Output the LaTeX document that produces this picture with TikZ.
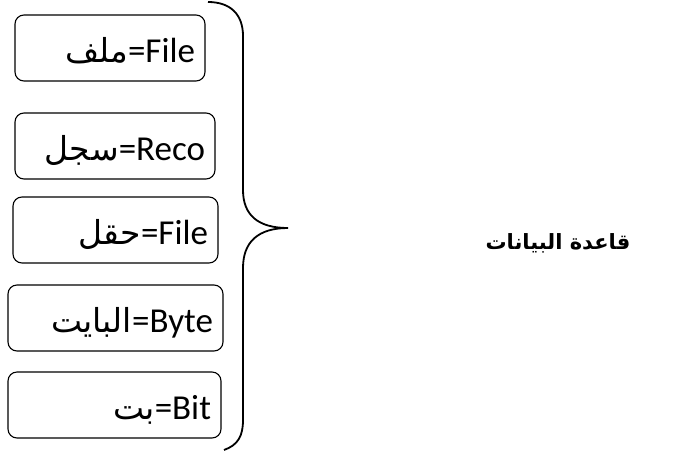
\documentclass[tikz,border=0pt]{standalone}
\usepackage{fontspec}
\setmainfont{Carlito}
\newfontfamily\arabicfont[Script=Arabic]{DejaVu Sans}
\TeXXeTstate=1
\usetikzlibrary{positioning}
\newcommand{\arb}[1]{{\arabicfont\fontsize{33}{38}\selectfont\beginR #1\endR}}

\begin{document}
\begin{tikzpicture}[x=1pt,y=-1pt,
    cell/.style={draw,rounded corners=9pt,line width=1.1pt,minimum height=66pt,
        align=right,inner xsep=10pt,inner ysep=0pt,text height=34pt,text depth=6pt,
        font=\fontsize{35}{40}\selectfont}]
        \useasboundingbox (0,0) rectangle (684,450);

        \node[cell,text width=170pt] (file)   at (110,48)    {\arb{ملف}=File};
        \node[cell,text width=180pt] (record) at (115,146)   {\arb{سجل}=Reco};
        \node[cell,text width=185pt] (field)  at (115.5,230) {\arb{حقل}=File};
        \node[cell,text width=195pt] (byte)   at (115.5,318) {\arb{البايت}=Byte};
        \node[cell,text width=193pt] (bit)    at (114.5,405) {\arb{بت}=Bit};

        % curly brace round the five boxes
        \coordinate (tip) at (288,228);
        \draw[line width=1.8pt] (208,2) .. controls (230,2) and (243,14) .. (243,36) -- (243,190)
            .. controls (243,215) and (258,228) .. (tip)
            .. controls (258,228) and (243,242) .. (243,268) -- (243,420)
            .. controls (243,436) and (238,445) .. (224,450);

        \node[font=\arabicfont\bfseries\fontsize{21}{25}\selectfont] (db) at (558,243) {\beginR قاعدة البيانات\endR};
    \end{tikzpicture}
\end{document}
